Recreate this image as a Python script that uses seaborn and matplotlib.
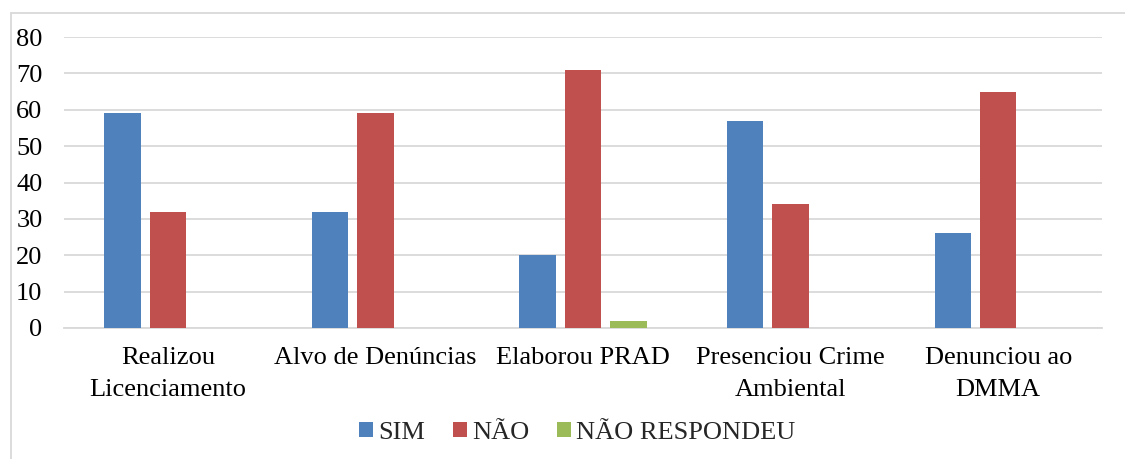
import matplotlib
matplotlib.use("Agg")
import matplotlib.pyplot as plt
from matplotlib.lines import Line2D
from matplotlib.patches import Patch
import seaborn as sns
import pandas as pd

categories = ["Realizou\nLicenciamento", "Alvo de Denúncias", "Elaborou PRAD",
              "Presenciou Crime\nAmbiental", "Denunciou ao\nDMMA"]
series_names = ["SIM", "NÃO", "NÃO RESPONDEU"]
sim = [59, 32, 20, 57, 26]
nao = [32, 59, 71, 34, 65]
nao_respondeu = [0, 0, 2, 0, 0]
colors = ["#4F81BD", "#C0504D", "#9BBB59"]
y_ticks = [0, 10, 20, 30, 40, 50, 60, 70, 80]

rows = []
for name, values in zip(series_names, [sim, nao, nao_respondeu]):
    for cat, v in zip(categories, values):
        rows.append({"categoria": cat, "resposta": name, "valor": v})
df = pd.DataFrame(rows)

sns.set_style("white")
plt.rcParams["font.family"] = ["Liberation Serif", "DejaVu Serif"]

W, H = 1125, 459
fig = plt.figure(figsize=(W / 100, H / 100), dpi=100)
ax = fig.add_axes([64 / W, 1 - 328 / H, (1102 - 64) / W, (328 - 37) / H])

sns.barplot(data=df, x="categoria", y="valor", hue="resposta",
            order=categories, hue_order=series_names, palette=colors,
            width=0.657, gap=0.2, saturation=1, linewidth=0,
            errorbar=None, legend=False, ax=ax, zorder=3)

grid_color = "#D9D9D9"
ax.set_ylim(0, 80)
ax.set_yticks(y_ticks)
ax.yaxis.grid(True, color=grid_color, linewidth=1.3, zorder=0)
ax.set_axisbelow(True)
for side in ["top", "right", "left"]:
    ax.spines[side].set_visible(False)
ax.spines["bottom"].set_color(grid_color)
ax.spines["bottom"].set_linewidth(1.3)
ax.set_xlabel("")
ax.set_ylabel("")
ax.tick_params(axis="x", length=0, pad=14, labelsize=19, colors="#000000")
ax.tick_params(axis="y", length=0, pad=15.5, labelsize=19, colors="#000000")
for lbl in ax.get_xticklabels():
    lbl.set_linespacing(1.55)
ax.set_xlim(-0.5, len(categories) - 0.5)

# chart frame: top and left edges
x0, y0 = 10.5 / W, 1 - 13 / H
fig.add_artist(Line2D([x0, 1.0], [y0, y0], transform=fig.transFigure,
                      color=grid_color, linewidth=1.3))
fig.add_artist(Line2D([x0, x0], [0, y0], transform=fig.transFigure,
                      color=grid_color, linewidth=1.3))

handles = [Patch(facecolor=c, edgecolor="none") for c in colors]
fig.legend(handles, series_names, loc="center",
           bbox_to_anchor=(577 / W, 1 - 433 / H), ncol=3, frameon=False,
           fontsize=19, handlelength=0.53, handleheight=0.53,
           handletextpad=0.2, columnspacing=1.05, borderpad=0)

fig.savefig("out.png", dpi=100)
